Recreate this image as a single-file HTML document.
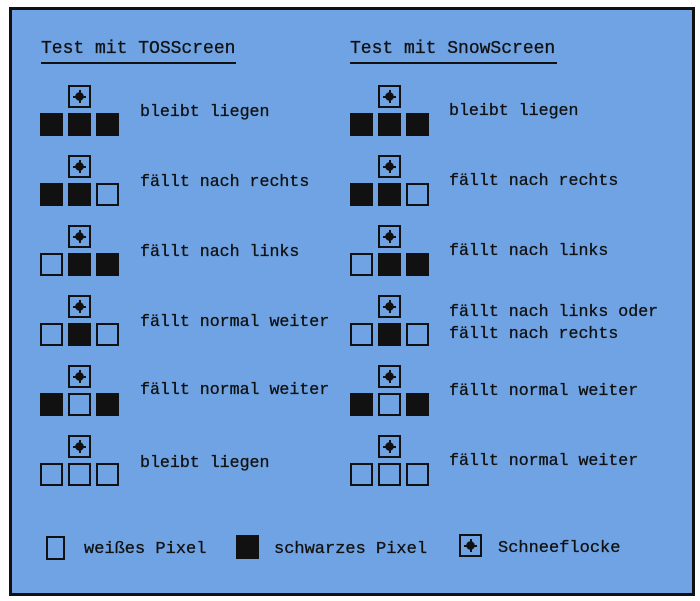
<!DOCTYPE html>
<html><head><meta charset="utf-8"><style>
body{margin:0;width:700px;height:601px;background:#fff;position:relative;overflow:hidden;font-family:"Liberation Mono","DejaVu Sans Mono",monospace;}
#f{position:absolute;left:9px;top:7px;width:680px;height:583px;background:#6fa3e3;border:3px solid #111;}
.c{position:absolute;width:19px;height:19px;border:2px solid #111;box-sizing:content-box;}
.b{background:#111;}
.s{position:absolute;width:19px;height:19px;border:2px solid #111;}
.s:after{content:"";position:absolute;left:3px;top:3px;width:13px;height:13px;background:
linear-gradient(#111,#111) 6px 0/2px 13px no-repeat,
linear-gradient(#111,#111) 0 6px/13px 2px no-repeat,
radial-gradient(circle,#111 0 4px,transparent 4.5px);}
.t{position:absolute;font-size:16.6px;color:#111;white-space:nowrap;line-height:20px;-webkit-text-stroke:0.3px #111;}
.h{position:absolute;font-size:18px;color:#111;border-bottom:2px solid #111;line-height:22px;padding-bottom:2px;-webkit-text-stroke:0.3px #111;}
</style></head><body>
<div id="f"></div>
<div class="h" style="left:41px;top:38px;width:195px">Test mit TOSScreen</div>
<div class="h" style="left:350px;top:38px;width:207px">Test mit SnowScreen</div>

<div class="s" style="left:68px;top:85px"></div>
<div class="c b" style="left:40px;top:113px"></div><div class="c b" style="left:68px;top:113px"></div><div class="c b" style="left:96px;top:113px"></div>
<div class="t" style="left:140px;top:102px">bleibt liegen</div>

<div class="s" style="left:68px;top:155px"></div>
<div class="c b" style="left:40px;top:183px"></div><div class="c b" style="left:68px;top:183px"></div><div class="c" style="left:96px;top:183px"></div>
<div class="t" style="left:140px;top:172px">fällt nach rechts</div>

<div class="s" style="left:68px;top:225px"></div>
<div class="c" style="left:40px;top:253px"></div><div class="c b" style="left:68px;top:253px"></div><div class="c b" style="left:96px;top:253px"></div>
<div class="t" style="left:140px;top:242px">fällt nach links</div>

<div class="s" style="left:68px;top:295px"></div>
<div class="c" style="left:40px;top:323px"></div><div class="c b" style="left:68px;top:323px"></div><div class="c" style="left:96px;top:323px"></div>
<div class="t" style="left:140px;top:312px">fällt normal weiter</div>

<div class="s" style="left:68px;top:365px"></div>
<div class="c b" style="left:40px;top:393px"></div><div class="c" style="left:68px;top:393px"></div><div class="c b" style="left:96px;top:393px"></div>
<div class="t" style="left:140px;top:380px">fällt normal weiter</div>

<div class="s" style="left:68px;top:435px"></div>
<div class="c" style="left:40px;top:463px"></div><div class="c" style="left:68px;top:463px"></div><div class="c" style="left:96px;top:463px"></div>
<div class="t" style="left:140px;top:453px">bleibt liegen</div>

<div class="s" style="left:378px;top:85px"></div>
<div class="c b" style="left:350px;top:113px"></div><div class="c b" style="left:378px;top:113px"></div><div class="c b" style="left:406px;top:113px"></div>
<div class="t" style="left:449px;top:101px">bleibt liegen</div>

<div class="s" style="left:378px;top:155px"></div>
<div class="c b" style="left:350px;top:183px"></div><div class="c b" style="left:378px;top:183px"></div><div class="c" style="left:406px;top:183px"></div>
<div class="t" style="left:449px;top:171px">fällt nach rechts</div>

<div class="s" style="left:378px;top:295px"></div>
<div class="c" style="left:350px;top:323px"></div><div class="c b" style="left:378px;top:323px"></div><div class="c" style="left:406px;top:323px"></div>
<div class="t" style="left:449px;top:302px">fällt nach links oder</div>
<div class="t" style="left:449px;top:324px">fällt nach rechts</div>

<div class="s" style="left:378px;top:225px"></div>
<div class="c" style="left:350px;top:253px"></div><div class="c b" style="left:378px;top:253px"></div><div class="c b" style="left:406px;top:253px"></div>
<div class="t" style="left:449px;top:241px">fällt nach links</div>

<div class="s" style="left:378px;top:365px"></div>
<div class="c b" style="left:350px;top:393px"></div><div class="c" style="left:378px;top:393px"></div><div class="c b" style="left:406px;top:393px"></div>
<div class="t" style="left:449px;top:381px">fällt normal weiter</div>

<div class="s" style="left:378px;top:435px"></div>
<div class="c" style="left:350px;top:463px"></div><div class="c" style="left:378px;top:463px"></div><div class="c" style="left:406px;top:463px"></div>
<div class="t" style="left:449px;top:451px">fällt normal weiter</div>

<div class="c" style="left:46px;top:536px;width:15px;height:20px"></div>
<div class="t" style="left:84px;top:540px;font-size:17px">weißes Pixel</div>
<div class="c b" style="left:236px;top:535px;width:19px;height:20px"></div>
<div class="t" style="left:274px;top:540px;font-size:17px">schwarzes Pixel</div>
<div class="s" style="left:459px;top:534px"></div>
<div class="t" style="left:498px;top:539px;font-size:17px">Schneeflocke</div>
</body></html>
